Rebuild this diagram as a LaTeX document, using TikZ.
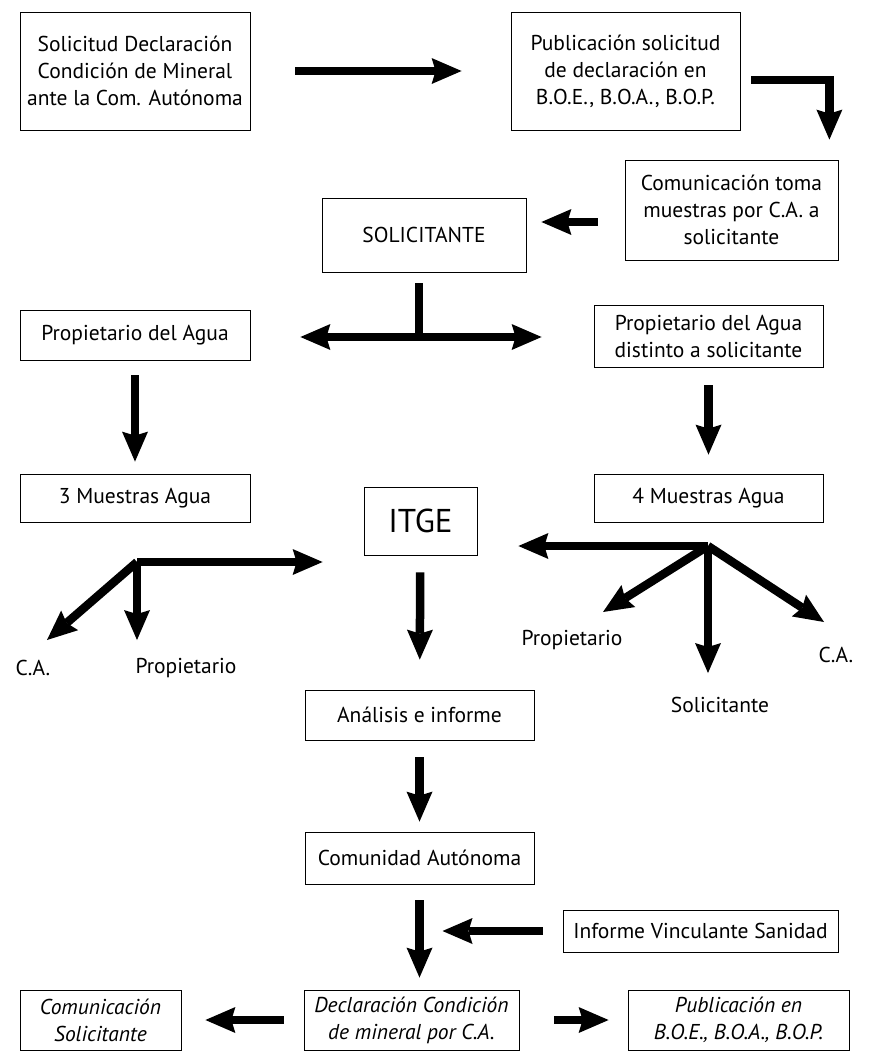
\documentclass[tikz,border=0pt]{standalone}
\usepackage{fontspec}
\setmainfont{PT Sans}
\usetikzlibrary{arrows.meta,positioning}

\begin{document}
\begin{tikzpicture}[x=1pt,y=-1pt,
box/.style={
  draw,
  line width=0.8pt,
  align=center,
  inner sep=0pt
},
arr/.style={
  line width=8.5pt,
  -{Stealth[length=30pt,width=26pt,inset=4pt,line width=0pt]}
},
shaft/.style={line width=8.5pt},
lbl/.style={inner sep=0pt},
ital/.style={font=\fontsize{21.5}{27}\selectfont\itshape},
font=\fontsize{21.5}{27}\selectfont
]
\useasboundingbox (0,0) rectangle (872,1058);

% top row
\node[box,minimum width=230pt,minimum height=118pt] at (135,71) 
  (req) {Solicitud Declaración\\Condición de Mineral\\ante la Com. Autónoma};
\node[box,minimum width=229pt,minimum height=118pt] at (625.5,71) 
  (pubreq) {Publicación solicitud\\de declaración en\\B.O.E., B.O.A., B.O.P.};
\node[box,minimum width=213pt,minimum height=100pt] at (731.5,210) 
  (toma) {Comunicación toma\\muestras por C.A. a\\solicitante};
\node[box,minimum width=204pt,minimum height=74pt] at (424,235) 
  (solic) {SOLICITANTE};

% owners and samples
\node[box,minimum width=230pt,minimum height=50pt] at (135,335) 
  (prop) {Propietario del Agua};
\node[box,minimum width=229pt,minimum height=62pt] at (708.5,336) 
  (propd) {Propietario del Agua\\distinto a solicitante};
\node[box,minimum width=230pt,minimum height=48pt] at (135,498) 
  (m3) {3 Muestras Agua};
\node[box,minimum width=113pt,minimum height=68pt,font=\fontsize{33}{36}\selectfont] at (420.5,521) 
  (itge) {ITGE};
\node[box,minimum width=229pt,minimum height=48pt] at (708.5,498) 
  (m4) {4 Muestras Agua};

\node[lbl] at (33,668) (ca1) {C.A.};
\node[lbl] at (186,668) (prop1) {Propietario};
\node[lbl] at (572,640) (prop2) {Propietario};
\node[lbl] at (720,705) (solic2) {Solicitante};
\node[lbl] at (836,655) (ca2) {C.A.};

% analysis and declaration
\node[box,minimum width=229pt,minimum height=50pt] at (419.5,715) 
  (an) {Análisis e informe};
\node[box,minimum width=229pt,minimum height=52pt] at (419.5,858) 
  (ca) {Comunidad Autónoma};
\node[box,minimum width=275pt,minimum height=42pt] at (700.5,931) 
  (inf) {Informe Vinculante Sanidad};
\node[box,ital,minimum width=215pt,minimum height=60pt] at (411.5,1020) 
  (dec) {Declaración Condición\\de mineral por C.A.};
\node[box,ital,minimum width=161pt,minimum height=60pt] at (100.5,1020) 
  (comsol) {Comunicación\\Solicitante};
\node[box,ital,minimum width=221pt,minimum height=60pt] at (738.5,1020) 
  (pubdec) {Publicación en\\B.O.E., B.O.A., B.O.P.};

\coordinate (t) at (419,337);
\coordinate (lb) at (137,562);
\coordinate (rb) at (708,546);
\coordinate (lt) at (47,640);
\coordinate (rt1) at (603,612);
\coordinate (rt2) at (824,622);

\draw[arr,shorten <=45pt,shorten >=49pt] (req) -- (pubreq);
\draw[arr,shorten <=11pt,shorten >=20pt] ([yshift=-9pt]pubreq.east) -| ([xshift=-9pt]toma.north east);
\draw[arr,shorten <=27pt,shorten >=15pt] ([yshift=-12pt]toma.west) -- ([yshift=-12pt]toma.west -| solic.east);

\draw[shaft,shorten <=11pt] (solic.south -| t) -- (t);
\draw[arr,shorten >=50pt] (t) -- (t -| prop.east);
\draw[arr,shorten >=52pt] (t) -- (t -| propd.west);

\draw[arr,shorten <=15pt,shorten >=12pt] (prop) -- (m3);
\draw[arr,shorten <=18pt,shorten >=19pt] (propd) -- (m4);

\draw[arr,shorten >=41pt] (lb) -- (lb -| itge.west);
\draw[arr] (lb) -- (lt);
\draw[arr,shorten >=18pt] (lb) -- (lb |- prop1.north);

\draw[arr,shorten >=41pt] (rb) -- (rb -| itge.east);
\draw[arr] (rb) -- (rt1);
\draw[arr] (rb) -- (rt2);
\draw[arr,shorten >=24pt] (rb) -- (rb |- solic2.north);

\draw[arr,shorten <=17pt,shorten >=30pt] (itge) -- (an);
\draw[arr,shorten <=17pt,shorten >=10pt] (an) -- (ca);
\draw[arr,shorten <=16pt,shorten >=12pt] (ca.south) -- (ca.south |- dec.north);
\draw[arr,shorten <=20pt,shorten >=23pt] (inf.west) -- (inf.west -| ca.south);

\draw[arr,shorten <=20pt,shorten >=24pt] (dec) -- (comsol);
\draw[arr,shorten <=35pt,shorten >=19pt] (dec) -- (pubdec);
\end{tikzpicture}
\end{document}
